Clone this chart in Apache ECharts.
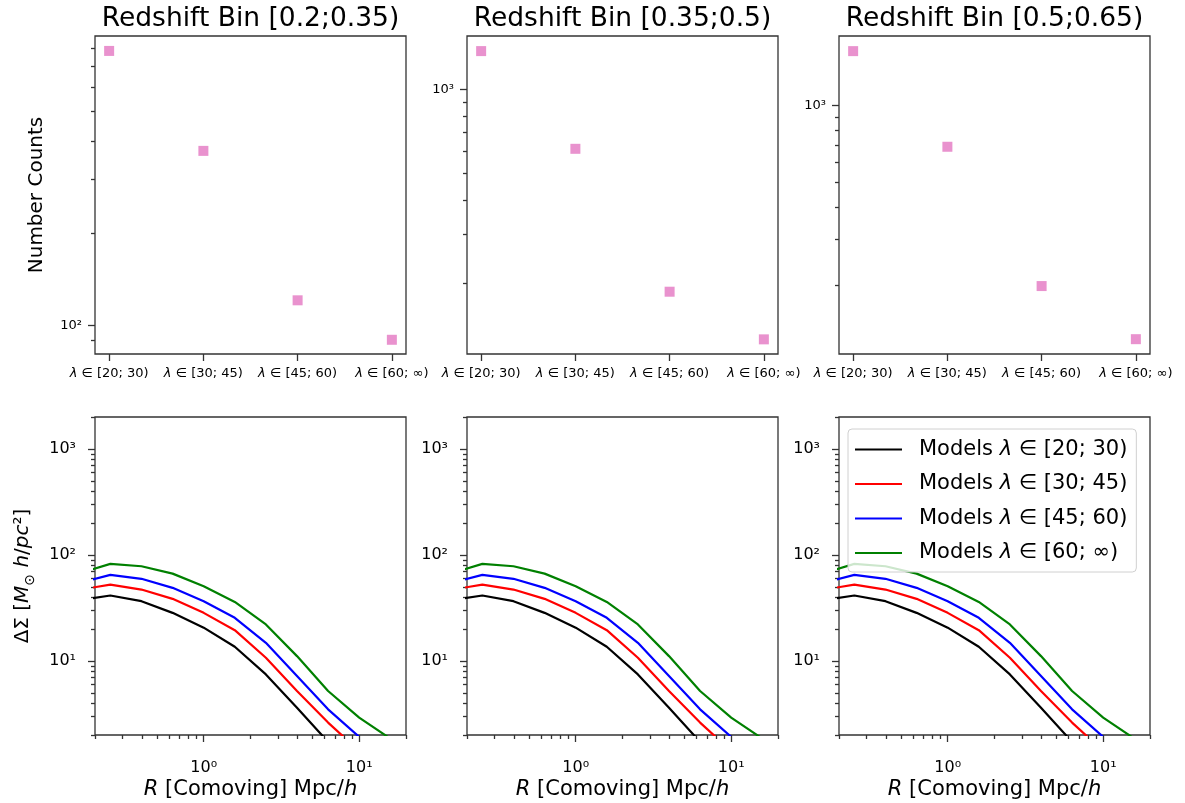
<!DOCTYPE html>
<html>
<head>
<meta charset="utf-8">
<title>Number counts and DeltaSigma models</title>
<script src="https://cdn.jsdelivr.net/npm/echarts@6/dist/echarts.min.js"></script>
<style>
    html, body { margin: 0; padding: 0; background: #fff; }
    #main { width: 1185px; height: 803px; }
</style>
</head>
<body>
<div id="main"></div>
<script>
// 数据
const zBins = ['Redshift Bin [0.2;0.35)', 'Redshift Bin [0.35;0.5)', 'Redshift Bin [0.5;0.65)'];
const lambdaBins = ['[20; 30)', '[30; 45)', '[45; 60)', '[60; ∞)'];
const modelNames = lambdaBins.map(b => 'Models λ ∈ ' + b);
const modelColors = ['#000000', '#ff0000', '#0000ff', '#008000'];

// 上排：每个红移区间的计数
const counts1 = [785, 371, 121, 90];
const counts2 = [1373, 611, 187, 126];
const counts3 = [1626, 690, 198, 123];
const countsAll = [counts1, counts2, counts3];
const countRange = [[80.9, 878], [111.6, 1556], [107.7, 1862]];
const countTicks = [[100], [1000], [1000]];

// 下排：ΔΣ(R) 模型曲线
const rGrid = [0.158, 0.251, 0.398, 0.631, 1.0, 1.585, 2.512, 3.981, 6.31, 10, 15.85];
const dsBlack = [37.4, 41.4, 36.6, 28.4, 20.6, 13.6, 7.46, 3.62, 1.72, 0.95, 0.5];
const dsRed = [46.8, 52.5, 47.1, 38.5, 28.4, 19.5, 10.7, 5.2, 2.62, 1.41, 0.8];
const dsBlue = [54.5, 64.9, 59.5, 48.9, 36.6, 25.5, 14.8, 7.19, 3.49, 1.92, 1.1];
const dsGreen = [67.2, 82.3, 78.2, 66.6, 50.6, 36.0, 22.1, 11.1, 5.2, 2.92, 1.85];
const dsAll = [dsBlack, dsRed, dsBlue, dsGreen];
const rRange = [0.2, 20];
const dsRange = [2, 2000];
const rTicks = [1, 10];
const dsTicks = [10, 100, 1000];

const FONT = 'DejaVu Sans';
const SUP = { '0': '⁰', '1': '¹', '2': '²', '3': '³' };
const gridLeft = [95, 467, 839];
const gridTop = [36, 417];

function powLabel(v) {
    return '10' + SUP[Math.round(Math.log10(v))];
}

// 对数轴的次刻度 2..9
function minorTicks(lo, hi) {
    let out = [];
    for (let e = Math.floor(Math.log10(lo)); e <= Math.ceil(Math.log10(hi)); e++) {
        for (let m = 2; m <= 9; m++) {
            let v = m * Math.pow(10, e);
            if (v >= lo * 0.9999 && v <= hi * 1.0001) out.push(v);
        }
    }
    return out;
}

function tick(len, vals) {
    return { show: true, length: len, customValues: vals, lineStyle: { color: '#333', width: 1.3 } };
}

// 轴线不显示（网格边框代替），也不要贴到 0 上
const noLine = { show: false, onZero: false };

let grids = [], xAxes = [], yAxes = [], series = [], titles = [];

function addGrid(left, top) {
    grids.push({
        left: left, top: top, width: 311, height: 318,
        show: true, borderColor: '#333', borderWidth: 1.3,
        outerBoundsMode: 'none'
    });
    return grids.length - 1;
}

// 上排三个面板
for (let p = 0; p < 3; p++) {
    let gi = addGrid(gridLeft[p], gridTop[0]);
    let lo = countRange[p][0], hi = countRange[p][1];
    titles.push({
        text: zBins[p], left: gridLeft[p] + 155.5, top: 6, textAlign: 'center', padding: 0,
        textStyle: { fontSize: 26.5, fontWeight: 'normal', fontFamily: FONT, color: '#000' }
    });
    xAxes.push({
        type: 'value', gridIndex: gi, position: 'bottom', min: -0.15, max: 3.15,
        axisLine: noLine, splitLine: { show: false },
        axisTick: tick(7, [0, 1, 2, 3]),
        axisLabel: {
            customValues: [0, 1, 2, 3], margin: 13, fontSize: 13, fontFamily: FONT, color: '#000',
            formatter: v => '{i|λ} ∈ ' + lambdaBins[v],
            rich: { i: { fontStyle: 'italic', fontSize: 13, fontFamily: FONT, color: '#000' } }
        }
    });
    let xi = xAxes.length - 1;
    yAxes.push({
        type: 'log', logBase: 10, gridIndex: gi, position: 'left', min: lo, max: hi,
        axisLine: noLine, splitLine: { show: false },
        axisTick: tick(7, countTicks[p]),
        axisLabel: {
            customValues: countTicks[p], margin: 13, fontSize: 13, fontFamily: FONT, color: '#000',
            formatter: powLabel
        },
        name: p === 0 ? 'Number Counts' : '', nameLocation: 'middle', nameGap: 48,
        nameTextStyle: { fontSize: 20, fontFamily: FONT, color: '#000' }
    });
    let yi = yAxes.length - 1;
    // 次刻度
    yAxes.push({
        type: 'log', logBase: 10, gridIndex: gi, position: 'left', min: lo, max: hi,
        axisLine: noLine, splitLine: { show: false },
        axisTick: tick(4, minorTicks(lo, hi)), axisLabel: { show: false }
    });
    series.push({
        name: 'counts', type: 'scatter', xAxisIndex: xi, yAxisIndex: yi,
        symbol: 'rect', symbolSize: 10,
        itemStyle: { color: '#e377c2' },
        data: countsAll[p].map((c, i) => [i, c])
    });
}

// 下排三个面板
for (let p = 0; p < 3; p++) {
    let gi = addGrid(gridLeft[p], gridTop[1]);
    xAxes.push({
        type: 'log', logBase: 10, gridIndex: gi, position: 'bottom', min: rRange[0], max: rRange[1],
        axisLine: noLine, splitLine: { show: false },
        axisTick: tick(7, rTicks),
        axisLabel: {
            customValues: rTicks, margin: 25, fontSize: 16, fontFamily: FONT, color: '#000',
            formatter: powLabel
        },
        name: '{i|R} [Comoving] Mpc/{i|h}', nameLocation: 'middle', nameGap: 44,
        nameTextStyle: {
            fontSize: 21, fontFamily: FONT, color: '#000',
            rich: { i: { fontStyle: 'italic', fontSize: 21, fontFamily: FONT, color: '#000' } }
        }
    });
    let xi = xAxes.length - 1;
    xAxes.push({
        type: 'log', logBase: 10, gridIndex: gi, position: 'bottom', min: rRange[0], max: rRange[1],
        axisLine: noLine, splitLine: { show: false },
        axisTick: tick(4, minorTicks(rRange[0], rRange[1])), axisLabel: { show: false }
    });
    yAxes.push({
        type: 'log', logBase: 10, gridIndex: gi, position: 'left', min: dsRange[0], max: dsRange[1],
        axisLine: noLine, splitLine: { show: false },
        axisTick: tick(7, dsTicks),
        axisLabel: {
            customValues: dsTicks, margin: 19, fontSize: 16, fontFamily: FONT, color: '#000',
            formatter: powLabel
        },
        name: p === 0 ? 'ΔΣ [{i|M}{sub|⊙} {i|h}/{i|pc}²]' : '', nameLocation: 'middle', nameGap: 58,
        nameTextStyle: {
            fontSize: 20, fontFamily: FONT, color: '#000', lineHeight: 28,
            rich: {
                i: { fontStyle: 'italic', fontSize: 20, fontFamily: FONT, color: '#000' },
                sub: { fontSize: 14, fontFamily: FONT, color: '#000', lineHeight: 18, verticalAlign: 'bottom' }
            }
        }
    });
    let yi = yAxes.length - 1;
    yAxes.push({
        type: 'log', logBase: 10, gridIndex: gi, position: 'left', min: dsRange[0], max: dsRange[1],
        axisLine: noLine, splitLine: { show: false },
        axisTick: tick(4, minorTicks(dsRange[0], dsRange[1])), axisLabel: { show: false }
    });
    for (let k = 0; k < 4; k++) {
        series.push({
            name: modelNames[k], type: 'line', xAxisIndex: xi, yAxisIndex: yi,
            symbol: 'none', clip: true,
            lineStyle: { color: modelColors[k], width: 2.2 },
            itemStyle: { color: modelColors[k] },
            data: rGrid.map((r, i) => [r, dsAll[k][i]])
        });
    }
}

var myChart = echarts.init(document.getElementById('main'));
let option = {
    animation: false,
    backgroundColor: '#fff',
    title: titles,
    legend: {
        data: modelNames,
        orient: 'vertical',
        left: 848, top: 429,
        icon: 'rect',
        itemWidth: 47, itemHeight: 2.2, itemGap: 10.5,
        padding: [8.5, 9, 7, 7],
        backgroundColor: 'rgba(255,255,255,0.8)',
        borderColor: '#d0d0d0', borderWidth: 1, borderRadius: 4,
        selectedMode: false,
        formatter: name => name.replace('λ', '{i|λ}'),
        textStyle: {
            fontSize: 21, fontFamily: FONT, color: '#000', lineHeight: 24, padding: [0, 0, 0, 12],
            rich: { i: { fontStyle: 'italic', fontSize: 21, fontFamily: FONT, color: '#000' } }
        }
    },
    grid: grids,
    xAxis: xAxes,
    yAxis: yAxes,
    series: series
};
myChart.setOption(option);
window.onresize = function () {
    myChart.resize();
};
</script>
</body>
</html>
